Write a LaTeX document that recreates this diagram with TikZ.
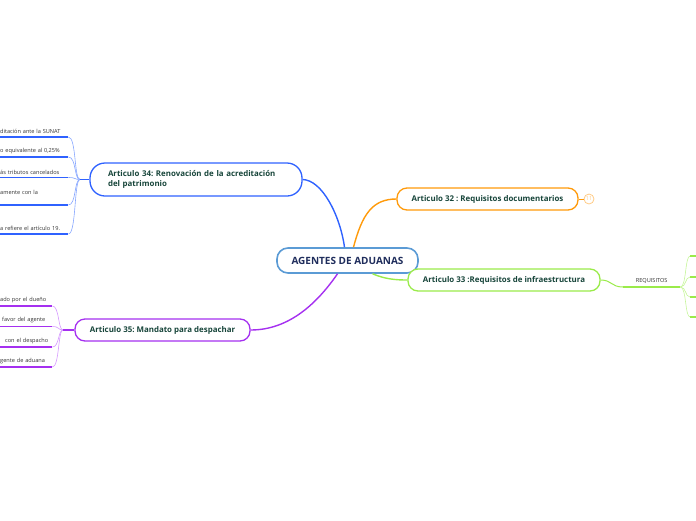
\documentclass[tikz,border=0pt]{standalone}
\usepackage{fontspec}
\setmainfont{Open Sans}
\frenchspacing
\definecolor{cblue}{HTML}{2F62FF}
\definecolor{cbluel}{HTML}{86A6FF}
\definecolor{ccent}{HTML}{5B9BD5}
\definecolor{corange}{HTML}{FF9A0A}
\definecolor{corangel}{HTML}{FFCB85}
\definecolor{cgreen}{HTML}{9AEB4A}
\definecolor{cgreenl}{HTML}{C6F59A}
\definecolor{cpurple}{HTML}{A530F0}
\definecolor{cpurplel}{HTML}{D598FF}
\definecolor{ctext}{HTML}{17453A}
\definecolor{cnavy}{HTML}{1F2D5C}
\definecolor{cleaf}{HTML}{333333}
\tikzset{
  mainbox/.style={draw, line width=1.3pt, fill=white, inner sep=0pt, font=\fontsize{7.9}{10.5}\selectfont\bfseries, text=ctext},
  leafbox/.style={inner xsep=0pt, inner ysep=3pt, align=left, anchor=south west, font=\fontsize{5.6}{7}\selectfont, text=cleaf},
  bigline/.style={line width=1.4pt},
  thinline/.style={line width=0.6pt},
  ulineb/.style={line width=1.3pt, cblue},
  ulinep/.style={line width=1.3pt, cpurple},
  ulineg/.style={line width=1.3pt, cgreen}
}
\begin{document}
\begin{tikzpicture}[x=1pt,y=-1pt]
\useasboundingbox (0,0) rectangle (696,520);
% central
\node[draw=ccent, line width=1.6pt, fill=white, rounded corners=11pt, minimum width=141pt, minimum height=25pt, inner sep=0pt, font=\fontsize{10}{12}\selectfont\bfseries, text=cnavy] (central) at (347.5,260.5) {AGENTES DE ADUANAS};
% main topics
\node[mainbox, draw=cblue, rounded corners=15pt, text width=176pt, inner xsep=18pt, minimum height=33pt, align=left] (a34) at (196,179.5) {Articulo 34: Renovación de la acreditación\\del patrimonio};
\node[mainbox, draw=corange, rounded corners=10pt, minimum width=181pt, minimum height=22pt] (a32) at (487.5,199) {Articulo 32 : Requisitos documentarios};
\node[mainbox, draw=cgreen, rounded corners=10pt, minimum width=192pt, minimum height=22pt] (a33) at (504,280) {Articulo 33 :Requisitos de infraestructura};
\node[mainbox, draw=cpurple, rounded corners=10pt, minimum width=175pt, minimum height=22pt] (a35) at (162.5,330) {Articulo 35: Mandato para despachar};
\node[draw=corangel, line width=0.8pt, circle, minimum size=10pt, inner sep=0pt, font=\fontsize{5.5}{6}\selectfont, text=corangel] (cnt) at (589,199) {11};
% central connectors
\draw[bigline, cblue] ([xshift=-3pt]central.north) .. controls (340,215) and (322,180) .. (a34.east);
\draw[bigline, corange] ([xshift=6pt]central.north) .. controls (362,215) and (372,199) .. (a32.west);
\draw[bigline, cpurple] ([xshift=-10pt]central.south) .. controls (318,302) and (290,330) .. (a35.east);
\draw[bigline, cgreen] ([xshift=25pt]central.south) .. controls (385,279) and (395,280) .. (a33.west);
\draw[line width=1pt, corange] (a32.east) -- (cnt.west);
% blue leaves
\node[leafbox, text width=68pt] (b1) at (0,137) {ditación ante la SUNAT};
\node[leafbox, text width=68pt] (b2) at (0,157) {o equivalente al 0,25\%};
\node[leafbox, text width=68pt] (b3) at (0,177.5) {ás tributos cancelados};
\node[leafbox, text width=68pt] (b4) at (0,205) {amente con la\\\mbox{}};
\node[leafbox, text width=68pt] (b5) at (0,234) {a refiere el artículo 19.};
\coordinate (bj) at (80,179.5);
\foreach \n in {b1,b2,b3,b4,b5}{
  \draw[ulineb] (\n.south west) -- (\n.south east);
  \draw[thinline, cbluel] (\n.south east) .. controls +(8,0) and +(-6,0) .. (bj);
}
\draw[line width=1.3pt, cblue] (bj) -- (a34.west);
% purple leaves
\node[leafbox, text width=52pt] (p1) at (0,306) {ado por el dueño};
\node[leafbox, text width=52pt] (p2) at (0,326.5) {\hspace{2pt}favor del agente};
\node[leafbox, text width=52pt] (p3) at (0,347) {\hspace{5pt}con el despacho};
\node[leafbox, text width=52pt] (p4) at (0,367) {gente de aduana};
\coordinate (pj) at (63,330);
\foreach \n in {p1,p2,p3,p4}{
  \draw[ulinep] (\n.south west) -- (\n.south east);
  \draw[thinline, cpurplel] (\n.south east) .. controls +(7,0) and +(-5,0) .. (pj);
}
\draw[line width=1.3pt, cpurple] (pj) -- (a35.west);
% REQUISITOS
\node[leafbox, text width=57pt, align=center, text=cleaf] (req) at (623,287) {REQUISITOS};
\draw[line width=1pt, cgreen] (a33.east) .. controls (612,280) and (611,287) .. (req.south west);
\draw[ulineg] (req.south west) -- (req.south east);
\foreach \i/\yy in {1/256,2/277,3/297,4/317}{
  \coordinate (r\i) at (690,\yy);
  \coordinate (re\i) at (698,\yy);
  \draw[thinline, cgreenl] (req.south east) .. controls +(6,0) and +(-5,0) .. (r\i);
  \draw[ulineg] (r\i) -- (re\i);
}
\end{tikzpicture}
\end{document}
